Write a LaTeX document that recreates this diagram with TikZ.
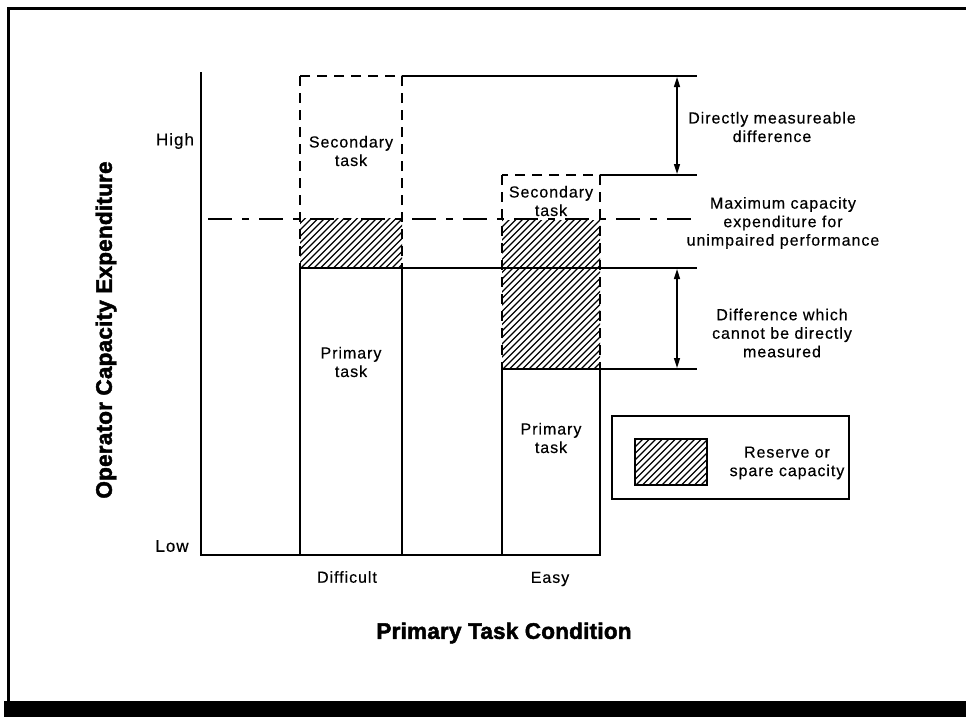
\documentclass[tikz,border=0pt]{standalone}
\usepackage{fontspec}
\setmainfont{Liberation Sans}
\newfontfamily\lblfont[LetterSpace=6,FakeBold=0.4]{Liberation Sans}
\newfontfamily\headfont[LetterSpace=1,FakeBold=2]{Liberation Sans Bold}
\usetikzlibrary{arrows.meta}

% diagonal hatching clipped to a rectangle: #1,#2 = top-left, #3,#4 = bottom-right
\newcommand\hatchrect[4]{%
  \begin{scope}
    \clip (#1,#2) rectangle (#3,#4);
    \foreach \k in {-220,-213.5,...,130} {
      \draw[hatchline] ({#1+\k},#4) -- ++(220,-220);
    }
  \end{scope}}

\begin{document}
\begin{tikzpicture}[x=1pt,y=-1pt,
  lbl/.style={font={\lblfont\fontsize{16}{18.5}\selectfont}, align=center, inner sep=0pt},
  tick/.style={font={\lblfont\fontsize{17}{20}\selectfont}, inner sep=0pt},
  axlabel/.style={font={\headfont\fontsize{22.5}{26}\selectfont}, inner sep=0pt},
  axis/.style={line width=2.5pt, line cap=rect},
  solidbox/.style={draw, line width=2.5pt},
  dashbox/.style={draw, line width=2.5pt, dash pattern=on 10pt off 7pt},
  refline/.style={line width=1.5pt},
  maxline/.style={line width=2pt, dash pattern=on 24pt off 10pt on 7pt off 10pt},
  hatchline/.style={line width=1.2pt},
  dimarrow/.style={line width=1.5pt, {Triangle[length=10pt,width=6pt]}-{Triangle[length=10pt,width=6pt]}},
  frame/.style={line width=3pt}]

\useasboundingbox (0,0) rectangle (966,717);

% page frame
\draw[frame] (8,702) -- (8,9) -- (966,9);
\fill (4,701) rectangle (966,717);

% axes
\coordinate (origin) at (201,555);
\coordinate (ytop) at (201,73);
\coordinate (xend) at (600,555);
\draw[axis] (ytop) -- (origin) -- (xend);

% hatched reserve regions
\hatchrect{300}{218}{402}{268}
\hatchrect{502}{220}{600}{369}

% reference levels
\coordinate (d-top) at (402,76);
\coordinate (r-top) at (697,76);
\coordinate (e-top) at (600,175);
\coordinate (r-sec) at (697,175);
\coordinate (m-left) at (208,219);
\coordinate (m-right) at (697,219);
\coordinate (d-prim) at (402,268);
\coordinate (r-prim) at (697,268);
\coordinate (e-prim) at (600,369);
\coordinate (r-low) at (697,369);
\draw[refline] (d-top) -- (r-top);
\draw[refline] (e-top) -- (r-sec);
\draw[refline] (d-prim) -- (r-prim);
\draw[refline] (e-prim) -- (r-low);
\draw[maxline] (m-left) -- (m-right);

% bars: secondary task (dashed), primary task (solid)
\draw[dashbox] (300,76) rectangle (402,268);
\draw[dashbox] (502,175) rectangle (600,369);
\draw[solidbox] (300,268) rectangle (402,555);
\draw[solidbox] (502,369) rectangle (600,555);

% difference arrows
\coordinate (a1-top) at (677,77);
\coordinate (a1-bot) at (677,174);
\coordinate (a2-top) at (677,269);
\coordinate (a2-bot) at (677,368);
\draw[dimarrow] (a1-top) -- (a1-bot);
\draw[dimarrow] (a2-top) -- (a2-bot);

% bar labels
\node[lbl] (d-sec) at (351,151) {Secondary\\task};
\node[lbl] (e-sec) at (551,201) {Secondary\\task};
\node[lbl] (d-pri) at (351,362) {Primary\\task};
\node[lbl] (e-pri) at (551,438) {Primary\\task};

% annotations
\node[lbl] (n-direct) at (772,127) {Directly measureable\\difference};
\node[lbl] (n-max) at (783,223) {Maximum capacity\\expenditure for\\unimpaired performance};
\node[lbl] (n-indirect) at (782,333) {Difference which\\cannot be directly\\measured};

% legend
\draw[line width=2pt] (612,416) rectangle (849,499);
\hatchrect{635}{439}{707}{485}
\draw[line width=1.8pt] (635,439) rectangle (707,485);
\node[lbl] (n-reserve) at (787,463) {Reserve or\\spare capacity};

% axis ticks and titles
\node[tick] (n-high) at (175,141) {High};
\node[tick] (n-low) at (172,546) {Low};
\node[lbl] (n-diff) at (347,577) {Difficult};
\node[lbl] (n-easy) at (550,579) {Easy};
\node[axlabel, rotate=90] (n-ylab) at (106,330) {Operator Capacity Expenditure};
\node[axlabel] (n-xlab) at (504,633) {Primary Task Condition};

\end{tikzpicture}
\end{document}
